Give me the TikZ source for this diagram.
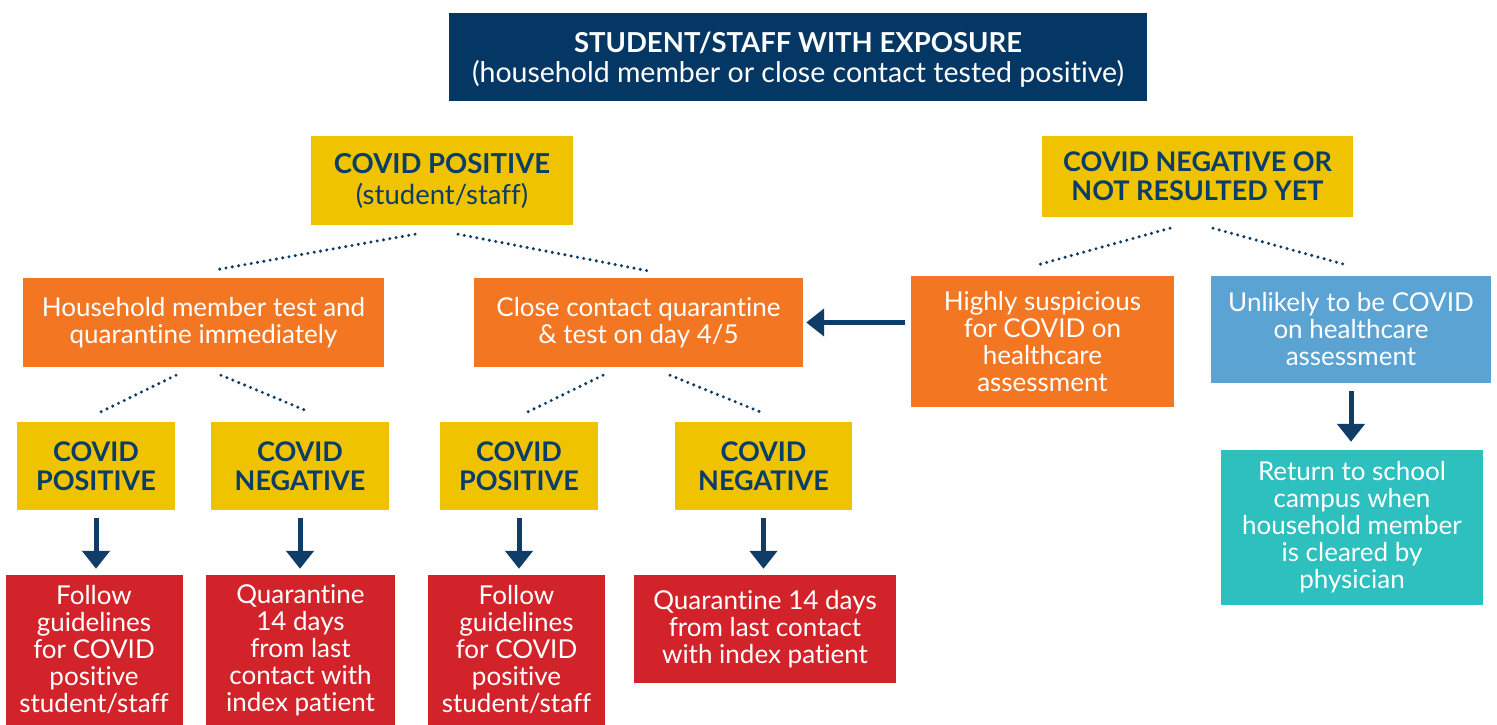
\documentclass[tikz,border=0pt]{standalone}
\usepackage{fontspec}
\setmainfont{Lato}[Ligatures=NoCommon]
\usetikzlibrary{arrows.meta}

\definecolor{navy}{HTML}{043764}
\definecolor{navytext}{HTML}{0A3D68}
\definecolor{gold}{HTML}{F0C300}
\definecolor{tangerine}{HTML}{F37623}
\definecolor{crimson}{HTML}{D2232A}
\definecolor{sky}{HTML}{5BA3D3}
\definecolor{aqua}{HTML}{2EBFBF}
\definecolor{ink}{HTML}{0F3D68}

\tikzset{
  box/.style={inner sep=0pt, align=center, text=white,
              font=\fontsize{26}{27}\selectfont},
  headbox/.style={box, fill=gold, text=navytext,
              font=\fontsize{27}{29}\selectfont\bfseries},
  orangebox/.style={box, fill=tangerine},
  redbox/.style={box, fill=crimson},
  dotline/.style={ink, line width=3.4pt, line cap=round,
              dash pattern=on 0pt off 6.4pt},
  arr/.style={ink, line width=5pt,
              -{Triangle[length=18pt,width=27pt]}},
}

\begin{document}
\begin{tikzpicture}[x=1pt,y=-1pt]
\useasboundingbox (0,0) rectangle (1497,725);

% top level
\node[box, fill=navy, minimum width=698pt, minimum height=88pt,
      font=\fontsize{28.5}{30}\selectfont] (top) at (798,57) {};
\node[text=white, inner sep=0pt, align=center, font=\fontsize{28.5}{30}\selectfont]
  (toptext) at ([yshift=-3pt]top.center)
  {{\bfseries\fontsize{27.5}{30}\selectfont STUDENT/STAFF WITH EXPOSURE}\\(household member or close contact tested positive)};

% test result
\node[headbox, minimum width=262pt, minimum height=89pt,
      font=\fontsize{27.5}{31}\selectfont] (cp) at (442,180.5)
  {{\bfseries COVID POSITIVE}\\(student/staff)};
\node[headbox, minimum width=311pt, minimum height=81pt] (nr) at (1197.5,176.5)
  {COVID NEGATIVE OR\\NOT RESULTED YET};

% second level
\node[orangebox, minimum width=361pt, minimum height=89pt] (hh) at (203.5,322.5)
  {Household member test and\\quarantine immediately};
\node[orangebox, minimum width=329pt, minimum height=89pt] (cc) at (638.5,322.5)
  {Close contact quarantine\\\& test on day 4/5};
\node[orangebox, minimum width=263pt, minimum height=131pt] (hs) at (1042.5,341.5)
  {Highly suspicious\\for COVID on\\healthcare\\assessment};
\node[box, fill=sky, minimum width=280pt, minimum height=107pt] (un) at (1351,329.5)
  {Unlikely to be COVID\\on healthcare\\assessment};
\node[box, fill=aqua, minimum width=262pt, minimum height=155pt] (rt) at (1352,527.5)
  {Return to school\\campus when\\household member\\is cleared by\\physician};

% third level
\node[headbox, minimum width=158pt, minimum height=88pt] (yp1) at (96,466) {COVID\\POSITIVE};
\node[headbox, minimum width=178pt, minimum height=88pt] (yn1) at (300,466) {COVID\\NEGATIVE};
\node[headbox, minimum width=158pt, minimum height=88pt] (yp2) at (519,466) {COVID\\POSITIVE};
\node[headbox, minimum width=177pt, minimum height=88pt] (yn2) at (763.5,466) {COVID\\NEGATIVE};

% outcomes
\node[redbox, minimum width=177pt, minimum height=150pt] (r1) at (94,650)
  {Follow\\guidelines\\for COVID\\positive\\student/staff};
\node[redbox, minimum width=189pt, minimum height=150pt] (r2) at (300.5,650)
  {Quarantine\\14 days\\from last\\contact with\\index patient};
\node[redbox, minimum width=177pt, minimum height=150pt] (r3) at (516.5,650)
  {Follow\\guidelines\\for COVID\\positive\\student/staff};
\node[redbox, minimum width=262pt, minimum height=108pt] (r4) at (765,629)
  {Quarantine 14 days\\from last contact\\with index patient};

% dotted branches
\draw[dotline] ([xshift=-27pt,yshift=-9pt]cp.south) -- ([xshift=12.5pt,yshift=8pt]hh.north);
\draw[dotline] ([xshift=16pt,yshift=-9pt]cp.south) -- ([xshift=9.5pt,yshift=7pt]cc.north);
\draw[dotline] ([xshift=-27.5pt,yshift=-11pt]nr.south) -- ([xshift=-4.5pt,yshift=11pt]hs.north);
\draw[dotline] ([xshift=15.5pt,yshift=-11pt]nr.south) -- ([xshift=-5pt,yshift=11pt]un.north);
\draw[dotline] ([xshift=-27.5pt,yshift=-8pt]hh.south) -- ([xshift=5pt,yshift=10pt]yp1.north);
\draw[dotline] ([xshift=17.5pt,yshift=-8pt]hh.south) -- ([xshift=9pt,yshift=10pt]yn1.north);
\draw[dotline] ([xshift=-35.5pt,yshift=-8pt]cc.south) -- ([xshift=9pt,yshift=10pt]yp2.north);
\draw[dotline] ([xshift=31.5pt,yshift=-8pt]cc.south) -- ([xshift=-3.5pt,yshift=10pt]yn2.north);

% arrows
\draw[arr, shorten <=8pt, shorten >=6pt] (yp1.south) -- (yp1.south |- r1.north);
\draw[arr, shorten <=8pt, shorten >=6pt] (yn1.south) -- (yn1.south |- r2.north);
\draw[arr, shorten <=8pt, shorten >=6pt] (yp2.south) -- (yp2.south |- r3.north);
\draw[arr, shorten <=8pt, shorten >=6pt] (yn2.south) -- (yn2.south |- r4.north);
\draw[arr, shorten <=8pt, shorten >=8pt] (un.south) -- (un.south |- rt.north);
\draw[arr, shorten <=6pt, shorten >=3pt] (hs.west |- cc.east) -- (cc.east);
\end{tikzpicture}
\end{document}
